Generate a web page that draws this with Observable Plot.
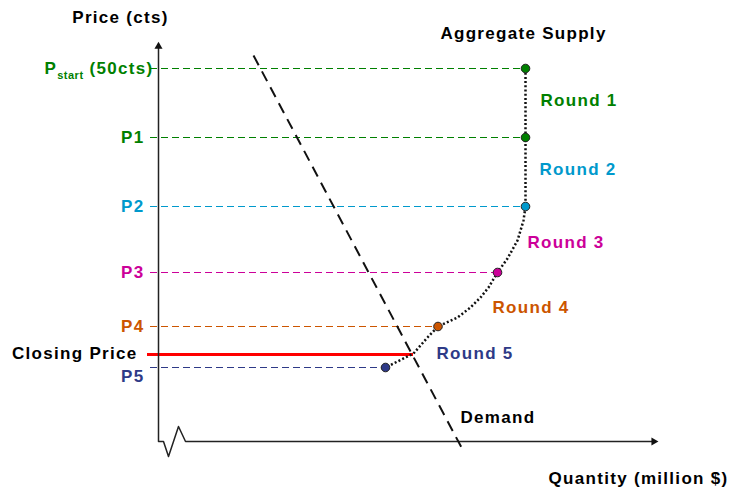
<!DOCTYPE html>
<html><head><meta charset="utf-8">
<script src="https://cdn.jsdelivr.net/npm/d3@7"></script>
<script src="https://cdn.jsdelivr.net/npm/@observablehq/plot@0.6"></script>
<style>
body{margin:0;background:#fff}
svg text{letter-spacing:1.3px}
</style>
</head><body><div id="chart"></div>
<script>
// Price levels (abstract units, 0-100) and labels
const priceLabels = ["P start (50cts)", "P1", "P2", "P3", "P4", "P5"];
const prices      = [93.25, 76, 58.75, 42.25, 28.75, 18.5];
const supplyQty   = [73.4, 73.4, 73.4, 67.8, 55.9, 45.4];
const levelColors = ["#008000", "#008000", "#0099CC", "#CC0099", "#CC5500", "#2E3A87"];

// Closing price
const closingPrice = 21.75;
const closingQty = 51;

// Aggregate supply curve (quantity, price)
const supplyCurveQ = [73.4, 73.4, 73.4, 73.0, 71.8, 69.8, 67.8, 66.0, 64.4, 62.4, 59.8, 55.9, 53.8, 51.0, 45.4];
const supplyCurveP = [93.25, 76, 58.75, 55.25, 50.25, 45.75, 42.25, 38.5, 36, 33.5, 31, 28.75, 26, 22, 18.5];

// Demand line (quantity, price)
const demandQ = [19.0, 60.6];
const demandP = [96.5, -1.5];

// Round annotations
const roundLabels = ["Round 1", "Round 2", "Round 3", "Round 4", "Round 5"];
const roundColors = ["#008000", "#0099CC", "#CC0099", "#CC5500", "#2E3A87"];
const roundQ = [76.4, 76.2, 73.8, 66.8, 55.6];
const roundP = [85.25, 68, 49.75, 33.5, 22];

// Axis path with break (quantity, price)
const axisQ = [0, 0, 1, 2, 4, 5.4, 99];
const axisP = [98.8, 0, 0, -3.75, 3.75, 0, 0];

const idx = d3.range(prices.length);
const upper = idx.slice(0, 5);
const supply = supplyCurveQ.map((q, i) => ({q, p: supplyCurveP[i]}));
const demand = demandQ.map((q, i) => ({q, p: demandP[i]}));
const axis = axisQ.map((q, i) => ({q, p: axisP[i]}));
const font = "'Liberation Sans', Arial, sans-serif";
const fs = 17;

const chart = Plot.plot({
  width: 730, height: 487,
  marginLeft: 158, marginRight: 72, marginTop: 41, marginBottom: 46,
  x: {domain: [0, 100], axis: null},
  y: {domain: [0, 100], axis: null},
  color: {type: "identity"},
  style: {fontFamily: font, background: "white", overflow: "visible"},
  marks: [
    Plot.ruleY(idx, {y: i => prices[i], x1: -1.6, x2: i => supplyQty[i], stroke: i => levelColors[i], strokeWidth: 1.2, strokeDasharray: "7,4"}),
    Plot.ruleY([closingPrice], {x1: -2.2, x2: closingQty, stroke: "#FF0000", strokeWidth: 3}),
    Plot.line(axis, {x: "q", y: "p", stroke: "#222", strokeWidth: 1.5}),
    Plot.dot([0], {x: 0, y: 98.8, symbol: "triangle", r: 3, fill: "#111", stroke: "none"}),
    Plot.dot([0], {x: 99.06, y: 0, symbol: "triangle", rotate: 90, r: 3, fill: "#111", stroke: "none"}),
    Plot.line(demand, {x: "q", y: "p", stroke: "#111", strokeWidth: 2, strokeDasharray: "11,7", strokeLinecap: "butt"}),
    Plot.line(supply, {x: "q", y: "p", stroke: "#111", strokeWidth: 2.5, strokeDasharray: "2,2.2", strokeLinecap: "butt"}),
    Plot.dot(idx, {x: i => supplyQty[i], y: i => prices[i], r: 4.3, fill: i => levelColors[i], stroke: "#222", strokeWidth: 1}),
    // price labels
    Plot.text(upper, {x: i => i === 0 ? -1 : -2.8, y: i => prices[i], text: i => priceLabels[i], fill: i => levelColors[i], textAnchor: "end", fontSize: fs, fontWeight: "bold"}),
    Plot.text([5], {x: -2.8, y: i => prices[i], dy: 9, text: i => priceLabels[i], fill: i => levelColors[i], textAnchor: "end", fontSize: fs, fontWeight: "bold"}),
    Plot.text(["Closing Price"], {x: -4.2, y: closingPrice, dy: -1, text: d => d, fill: "#000", textAnchor: "end", fontSize: fs, fontWeight: "bold"}),
    // round labels
    Plot.text(roundLabels, {x: (d, i) => roundQ[i], y: (d, i) => roundP[i], text: d => d, fill: (d, i) => roundColors[i], textAnchor: "start", fontSize: fs, fontWeight: "bold"}),
    Plot.text(["Aggregate Supply"], {x: 73, y: 102, text: d => d, fill: "#000", textAnchor: "middle", fontSize: fs, fontWeight: "bold"}),
    Plot.text(["Demand"], {x: 60.4, y: 6, text: d => d, fill: "#000", textAnchor: "start", fontSize: fs, fontWeight: "bold"}),
    Plot.text(["Price (cts)"], {x: -7.6, y: 106, text: d => d, fill: "#000", textAnchor: "middle", fontSize: fs, fontWeight: "bold"}),
    Plot.text(["Quantity (million $)"], {x: 114, y: -9.25, text: d => d, fill: "#000", textAnchor: "end", fontSize: fs, fontWeight: "bold"})
  ]
});
document.getElementById("chart").appendChild(chart);

// Subscript for P start
d3.select(chart).selectAll("text").filter(function() { return this.textContent === priceLabels[0]; })
  .each(function() {
    const t = d3.select(this);
    t.text(null);
    t.append("tspan").text("P");
    t.append("tspan").attr("font-size", 11).attr("dy", 5).style("letter-spacing", "0.5px").text("start");
    t.append("tspan").attr("dy", -5).text(" (50cts)");
  });
</script>
</body></html>
